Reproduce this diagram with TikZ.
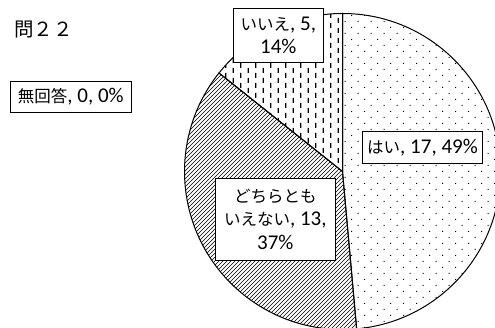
\documentclass[tikz,border=0pt]{standalone}
\usepackage{fontspec}
\setmainfont{Carlito}
\newfontfamily\jpfont{Noto Sans CJK JP}
\usetikzlibrary{patterns}
\newcommand{\jtxt}[1]{{\jpfont\fontsize{16.5}{23.3}\selectfont #1}}

% Fill patterns of the three slices
\pgfdeclarepatternformonly{piedots}{\pgfqpoint{-1pt}{-1pt}}{\pgfqpoint{14pt}{13pt}}{\pgfqpoint{13pt}{12pt}}{
  \pgfpathrectangle{\pgfqpoint{0pt}{0pt}}{\pgfqpoint{1.2pt}{1.2pt}}
  \pgfpathrectangle{\pgfqpoint{6.5pt}{6pt}}{\pgfqpoint{1.2pt}{1.2pt}}
  \pgfusepath{fill}}
\pgfdeclarepatternformonly{pievdash}{\pgfqpoint{-1pt}{-1pt}}{\pgfqpoint{16pt}{11pt}}{\pgfqpoint{15pt}{10pt}}{
  \pgfpathrectangle{\pgfqpoint{0pt}{0pt}}{\pgfqpoint{1.3pt}{5pt}}
  \pgfpathrectangle{\pgfqpoint{7.5pt}{5pt}}{\pgfqpoint{1.3pt}{5pt}}
  \pgfusepath{fill}}
\pgfdeclarepatternformonly{piediag}{\pgfqpoint{-1pt}{-1pt}}{\pgfqpoint{5pt}{5pt}}{\pgfqpoint{4pt}{4pt}}{
  \pgfsetlinewidth{0.7pt}
  \pgfpathmoveto{\pgfqpoint{0pt}{0pt}}
  \pgfpathlineto{\pgfqpoint{4.1pt}{4.1pt}}
  \pgfusepath{stroke}}

\begin{document}
\begin{tikzpicture}[x=1pt, y=1pt,
  lbl/.style={draw, fill=white, line width=0.8pt, inner sep=0pt, align=center,
    font=\fontsize{21}{23.3}\selectfont},
  slice/.style={draw, line width=1pt}]
\useasboundingbox (0,0) rectangle (495,328);
\clip (0,0) rectangle (495,328);

% Title
\node[anchor=west, inner sep=0pt, font=\jpfont\fontsize{19.5}{22}\selectfont] (title) at (14,298.5) {問２２};

% Pie (start angle / end angle / pattern)
\coordinate (c) at (342.5,156.5);
\foreach \a/\b/\p in {90/-84.857/piedots, -84.857/-218.571/piediag, 141.429/90/pievdash} {
  \draw[slice, pattern=\p] (c) -- ++(\a:158) arc[start angle=\a, end angle=\b, radius=158] -- cycle;
}

% Data labels
\node[lbl, minimum width=120.3pt, minimum height=31.7pt] (nores) at (70.8,231.2) {\jtxt{無回答}, 0, 0\%};
\node[lbl, minimum width=90pt, minimum height=54.4pt] (iie) at (278.3,292.5) {\jtxt{いいえ}, 5,\\14\%};
\node[lbl, minimum width=119.6pt, minimum height=32.3pt] (hai) at (422.5,180.8) {\jtxt{はい}, 17, 49\%};
\node[lbl, minimum width=119.5pt, minimum height=81.5pt] (dochira) at (275.3,108.7) {\jtxt{どちらとも}\\\jtxt{いえない}, 13,\\37\%};

\end{tikzpicture}
\end{document}
